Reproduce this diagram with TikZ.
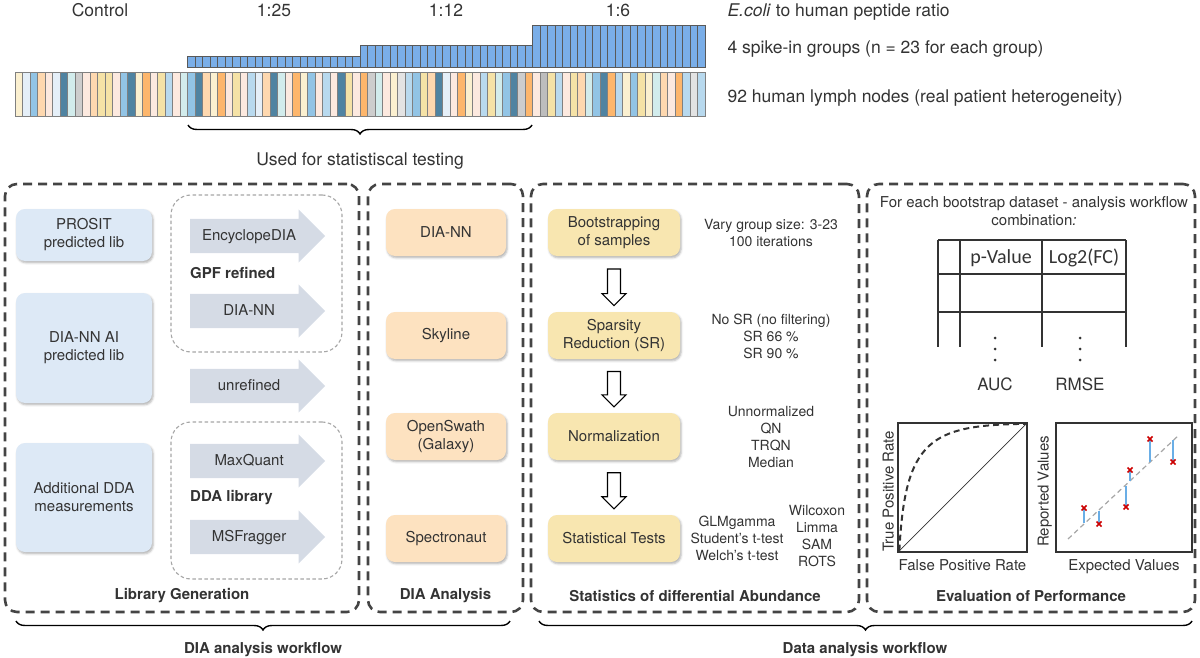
\documentclass[tikz,border=0pt]{standalone}
\usepackage{fontspec}
\setmainfont{TeX Gyre Heros}
\newfontfamily\tablefont{Carlito}
\usetikzlibrary{positioning,calc,shapes.arrows,shadows.blur,decorations.pathreplacing}

\definecolor{txt}{HTML}{333333}
\definecolor{panelgray}{HTML}{444444}
\definecolor{libblue}{HTML}{DDE9F6}
\definecolor{arrowgray}{HTML}{D5DBE5}
\definecolor{toolorange}{HTML}{FDE2C0}
\definecolor{statyellow}{HTML}{F8E6B0}
\definecolor{spikeblue}{HTML}{7AAEE8}
\definecolor{resblue}{HTML}{6AAEE6}
\definecolor{lymc}{HTML}{FBF0D0}
\definecolor{lymv}{HTML}{E5EFF8}
\definecolor{lymb}{HTML}{92C4E5}
\definecolor{lymp}{HTML}{FED8AF}
\definecolor{lymq}{HTML}{FCE9DF}
\definecolor{lymd}{HTML}{4F83A1}
\definecolor{lymt}{HTML}{D2ECEC}
\definecolor{lymg}{HTML}{CDCDCD}
\definecolor{lymG}{HTML}{BDBDBD}
\definecolor{lymo}{HTML}{FDB66C}
\definecolor{lymy}{HTML}{F5E2A6}
\definecolor{lyml}{HTML}{B8D9EE}
\definecolor{lymw}{HTML}{E3E3E3}

\newcommand\topfont{\fontsize{17.5}{20}\selectfont}
\newcommand\boxfont{\fontsize{15}{18}\selectfont}
\newcommand\sidefont{\fontsize{14}{17}\selectfont}

\tikzset{
  panel/.style={draw=panelgray, line width=2.6pt, dash pattern=on 9pt off 6pt, rounded corners=12pt},
  libgroup/.style={draw=black!35, line width=1.1pt, dash pattern=on 3.5pt off 2.5pt, rounded corners=20pt},
  softbox/.style={rounded corners=9pt, align=center, font=\boxfont,
    blur shadow={shadow xshift=1.2pt, shadow yshift=-1.8pt, shadow blur steps=4, shadow opacity=30}},
  libbox/.style={softbox, fill=libblue, minimum width=136pt},
  toolbox/.style={softbox, fill=toolorange, minimum width=120pt, minimum height=47pt},
  statbox/.style={softbox, fill=statyellow, minimum width=132pt, minimum height=47pt},
  libarrow/.style={single arrow, fill=arrowgray, single arrow head extend=9.5pt, minimum height=135pt,
    text height=11pt, text depth=3pt, inner ysep=10pt, inner xsep=0pt, anchor=tail, font=\boxfont},
  sidetext/.style={align=center, font=\sidefont},
  paneltitle/.style={font=\bfseries\boxfont},
  toptext/.style={font=\topfont, anchor=base},
  lymphbar/.style={draw=black!50, line width=1pt},
  spikebar/.style={draw=black!65, line width=1pt, fill=spikeblue},
  curly/.style={decorate, decoration={brace, amplitude=9pt, mirror}, line width=1.4pt},
  plotbox/.style={draw=txt, line width=1.3pt, inner sep=0pt},
}

\begin{document}
\begin{tikzpicture}[x=1pt, y=-1pt, every node/.append style={text=txt}]
\useasboundingbox (0,0) rectangle (1200,658);

\foreach \c [count=\i from 0] in {c,v,b,p,q,v,d,t,g,q,p,y,y,q,b,d,c,o,q,y,l,q,t,
  b,d,p,c,o,q,y,q,l,v,p,d,t,q,o,c,b,q,l,q,d,y,q,
  o,g,t,q,c,w,l,b,y,p,d,v,q,o,c,q,l,y,t,b,d,g,o,
  q,G,y,l,q,y,p,t,b,d,o,l,c,b,y,c,t,p,q,o,l,w,l}
  \draw[lymphbar, fill=lym\c] ({15+7.5*\i},73) rectangle ++(7.5,44);
\foreach \g/\h in {23/57, 46/46, 69/26}
  \foreach \k in {0,...,22}
    \draw[spikebar] ({15+7.5*(\g+\k)},\h) rectangle ({22.5+7.5*(\g+\k)},68);

\node[toptext] (ctrl) at (100,17) {Control};
\node[toptext] (r25) at (274,17) {1:25};
\node[toptext] (r12) at (446,17) {1:12};
\node[toptext] (r6) at (618,17) {1:6};
\node[toptext, anchor=base west] (ratio) at (724,17) {\textit{E.coli} to human peptide ratio};
\node[toptext, anchor=base west] (spikes) at (724,54) {4 spike-in groups (n = 23 for each group)};
\node[toptext, anchor=base west] (lymph) at (724,103) {92 human lymph nodes (real patient heterogeneity)};
\coordinate (used l) at (188,125);
\coordinate (used r) at (532,125);
\draw[curly] (used l) -- (used r);
\node[toptext] (used) at (360,166) {Used for statistiscal testing};

\node[panel, minimum width=354pt, minimum height=428pt] (libgen) at (182,398) {};
\node[panel, minimum width=155pt, minimum height=428pt] (dia) at (445.5,398) {};
\node[panel, minimum width=328pt, minimum height=428pt] (stats) at (695,398) {};
\node[panel, minimum width=328pt, minimum height=428pt] (eval) at (1031,398) {};

\node[libbox, minimum height=52pt] (prosit) at (84,235) {PROSIT\\predicted lib};
\node[libbox, minimum height=110pt] (diannai) at (84,348) {DIA-NN AI\\predicted lib};
\node[libbox, minimum height=109pt] (ddameas) at (84,497.5) {Additional DDA\\measurements};
\node[libgroup, minimum width=171pt, minimum height=157pt] (gpf) at (256.5,273.5) {};
\node[libgroup, minimum width=171pt, minimum height=157pt] (ddalib) at (256.5,500.5) {};
\node[libarrow] (encyclo) at (190,236) {EncyclopeDIA};
\node[libarrow] (gpfdiann) at (190,311) {DIA-NN};
\node[libarrow] (unref) at (190,386) {unrefined};
\node[libarrow] (maxq) at (190,461) {MaxQuant};
\node[libarrow] (msfrag) at (190,537) {MSFragger};
\node[font=\bfseries\boxfont, anchor=west, inner sep=0pt] (gpftitle) at (190,273) {GPF refined};
\node[font=\bfseries\boxfont, anchor=west, inner sep=0pt] (ddatitle) at (190,498) {DDA library};
\node[paneltitle] at (182,596) {Library Generation};

\node[toolbox] (diann) at (446,232.5) {DIA-NN};
\node[toolbox] (skyline) at (446,335.5) {Skyline};
\node[toolbox] (openswath) at (446,436.5) {OpenSwath\\(Galaxy)};
\node[toolbox] (spectro) at (446,538.5) {Spectronaut};
\node[paneltitle] at (445.5,596) {DIA Analysis};

\node[statbox] (boot) at (614,232.5) {Bootstrapping\\of samples};
\node[statbox] (spars) at (614,335.5) {Sparsity\\Reduction (SR)};
\node[statbox] (norm) at (614,436.5) {Normalization};
\node[statbox] (tests) at (614,538.5) {Statistical Tests};
\foreach \a/\b in {boot/spars, spars/norm, norm/tests} {
  \path (\a.south) -- (\b.north) coordinate[pos=0.23] (t) coordinate[pos=0.89] (h);
  \draw[line width=1.1pt, fill=white, line join=miter]
    ($(t)+(-6.5,0)$) -- ($(t)+(6.5,0)$) -- ($(h)+(6.5,-12)$) -- ($(h)+(12,-12)$) -- (h)
    -- ($(h)+(-12,-12)$) -- ($(h)+(-6.5,-12)$) -- cycle;
}
\node[sidetext] (vary) at (771,233) {Vary group size: 3-23\\100 iterations};
\node[sidetext] (srs) at (771,336) {No SR (no filtering)\\SR 66 \%\\SR 90 \%};
\node[sidetext] (norms) at (771,436.5) {Unnormalized\\QN\\TRQN\\Median};
\node[sidetext] (testsa) at (737,538) {GLMgamma\\Student's t-test\\Welch's t-test};
\node[sidetext] (testsb) at (817,536.5) {Wilcoxon\\Limma\\SAM\\ROTS};
\node[paneltitle] at (695,596) {Statistics of differential Abundance};

\node[align=center, font=\boxfont] (foreach) at (1034,211) {For each bootstrap dataset - analysis workflow\\combination\textit{:}};
\foreach \y in {240,274,312} \draw[line width=1.3pt, txt] (938,\y) -- (1126,\y);
\foreach \x in {938,960,1042,1126} \draw[line width=1.3pt, txt] (\x,240) -- (\x,347);
\node[font=\tablefont\fontsize{20}{22}\selectfont] (pval) at (1001,258) {p-Value};
\node[font=\tablefont\fontsize{20}{22}\selectfont] (logfc) at (1084,258) {Log2(FC)};
\foreach \x in {995,1080} \foreach \y in {338,349,360} \fill[txt] (\x,\y) circle (1.5);
\node[font=\fontsize{17}{20}\selectfont] (auc) at (995,384) {AUC};
\node[font=\fontsize{17}{20}\selectfont] (rmse) at (1080,384) {RMSE};

\node[plotbox, minimum width=129pt, minimum height=129pt] (roc) at (962.5,487.5) {};
\draw[line width=0.7pt, txt] (roc.south west) -- (roc.north east);
\draw[line width=2pt, dash pattern=on 6pt off 4pt, txt] ($(roc.south west)+(2,-2)$)
  .. controls (905,440) and (930,425) .. ($(roc.north east)+(-2,1.5)$);
\node[font=\boxfont, below=3pt of roc] (fpr) {False Positive Rate};
\node[font=\boxfont, rotate=90, anchor=south, xshift=-4pt] (tpr) at (roc.west) {True Positive Rate};

\node[plotbox, minimum width=136pt, minimum height=129pt] (scat) at (1124,487.5) {};
\draw[black!35, line width=1.2pt, dash pattern=on 5pt off 3.5pt] (1068,539) -- (1179,435);
\foreach \x/\m/\l in {1084/508/523, 1099/524/511, 1126/507/486, 1130/470/481, 1150/439/462, 1173/462/440} {
  \draw[resblue, line width=2pt] (\x,\m) -- (\x,\l);
  \draw[red!80!black, line width=1.5pt] ({\x-2.5},{\m-2.5}) -- ({\x+2.5},{\m+2.5})
    ({\x-2.5},{\m+2.5}) -- ({\x+2.5},{\m-2.5});
}
\node[font=\boxfont, below=3pt of scat] (expv) {Expected Values};
\node[font=\boxfont, rotate=90, anchor=south, xshift=-4pt] (repv) at (scat.west) {Reported Values};
\node[paneltitle] at (1031,596) {Evaluation of Performance};

\coordinate (dia l) at (16,621);
\coordinate (dia r) at (510,621);
\coordinate (data l) at (539,621);
\coordinate (data r) at (1192,621);
\draw[curly] (dia l) -- (dia r);
\draw[curly] (data l) -- (data r);
\node[paneltitle] (diawf) at (263,650) {DIA analysis workflow};
\node[paneltitle] (datawf) at (865,650) {Data analysis workflow};
\end{tikzpicture}
\end{document}
